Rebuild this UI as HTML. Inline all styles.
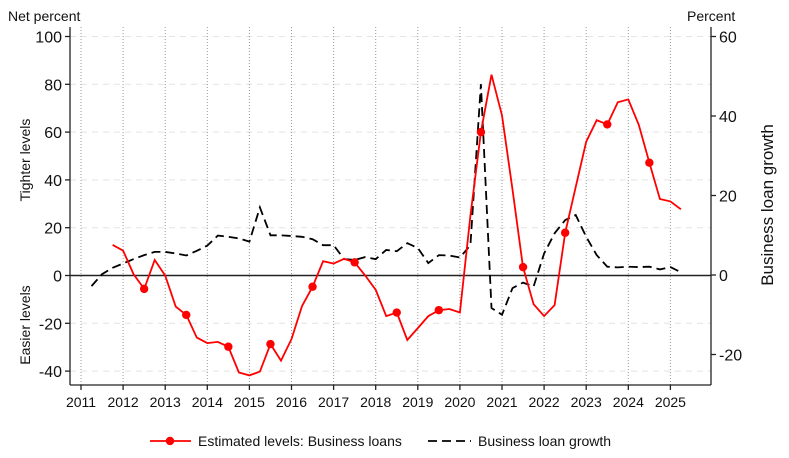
<!DOCTYPE html>
<html><head><meta charset="utf-8"><style>
body{margin:0;background:#fff;font-family:"Liberation Sans",sans-serif}
svg{display:block}
</style></head><body>
<svg id="c" width="789" height="458" font-family="Liberation Sans, sans-serif"></svg>
<script>
const years=[2011,2012,2013,2014,2015,2016,2017,2018,2019,2020,2021,2022,2023,2024,2025];
const leftTicks=[100,80,60,40,20,0,-20,-40];
const rightTicks=[60,40,20,0,-20];
const redStart=2011.75;
const redValues=[12.8,10.4,0.5,-5.6,6.5,0,-13,-16.5,-26,-28.3,-27.8,-29.8,-40.6,-41.8,-40.2,-28.7,-35.6,-26.6,-12.8,-4.7,6,5,7,5.5,0,-6,-17,-15.5,-27,-22,-17,-14.5,-14,-15.5,25,60,84,67,36,3.5,-12,-17,-12.4,17.9,37,56,65,63.2,72.5,73.7,63,47.2,32,31,27.7];
const blackStart=2011.25;
const blackValues=[-2.8,0.2,1.8,2.9,4,5,5.8,5.8,5.4,4.9,6.1,7.4,9.9,9.6,9.2,8.4,17,10,10,9.8,9.6,9,7.5,7.5,4,3.8,4.5,4,6.3,6,8,6.8,3,5,4.9,4.4,7.5,48,-8.3,-10,-3.3,-1.9,-2.9,5.4,10.5,13.8,15.1,9.6,5,2.1,1.9,2.1,2,2.1,1.4,2,0.7];
const NS='http://www.w3.org/2000/svg';
const svg=document.getElementById('c');
const X0=70,X1=711,YT=27,YB=385;
const xs=t=>81+(t-2011)*42.1;
const yl=v=>275.5-v*2.39;
const yr=v=>275-v*3.975;
function el(tag,attrs,parent){const e=document.createElementNS(NS,tag);for(const k in attrs)e.setAttribute(k,attrs[k]);(parent||svg).appendChild(e);return e;}
// grid
const grid=el('g',{});


leftTicks.forEach(v=>{if(v!==0)el('line',{x1:X0,x2:X1,y1:yl(v),y2:yl(v),stroke:'#e4e4e4','stroke-dasharray':'6,5','stroke-width':1},grid);});
years.forEach(y=>{el('line',{x1:xs(y),x2:xs(y),y1:YT,y2:YB,stroke:'#999','stroke-dasharray':'1,2','stroke-width':1},grid);});
// zero line
const z=el('line',{x1:X0,x2:X1,y1:yl(0),y2:yl(0),stroke:'#222','stroke-width':1.5});


// axes
const ax=el('g',{stroke:'#222','stroke-width':1.3});


el('line',{x1:X0,x2:X0,y1:YT,y2:YB},ax);
el('line',{x1:X1,x2:X1,y1:YT,y2:YB},ax);
el('line',{x1:X0,x2:X1,y1:YB,y2:YB},ax);
leftTicks.forEach(v=>{el('line',{x1:X0-5,x2:X0,y1:yl(v),y2:yl(v)},ax);
 const t=el('text',{x:X0-8,y:yl(v)+6,'text-anchor':'end','font-size':16,fill:'#111',stroke:'none'});t.textContent=v;
 
 });
rightTicks.forEach(v=>{el('line',{x1:X1,x2:X1+5,y1:yr(v),y2:yr(v)},ax);
 const t=el('text',{x:X1+8,y:yr(v)+6,'font-size':16,fill:'#111',stroke:'none'});t.textContent=v;
 
 });
years.forEach(y=>{el('line',{x1:xs(y),x2:xs(y),y1:YB,y2:YB+5},ax);
 const t=el('text',{x:xs(y),y:YB+22,'text-anchor':'middle','font-size':14,fill:'#111',stroke:'none'});t.textContent=y;
 
 });
// series
const bp=blackValues.map((v,i)=>xs(blackStart+i*0.25).toFixed(1)+','+yr(v).toFixed(1)).join(' ');
const bl=el('polyline',{points:bp,fill:'none',stroke:'#000','stroke-width':1.8,'stroke-dasharray':'9,5'});


const rp=redValues.map((v,i)=>xs(redStart+i*0.25).toFixed(1)+','+yl(v).toFixed(1)).join(' ');
const rl=el('polyline',{points:rp,fill:'none',stroke:'#ff0000','stroke-width':1.8});


redValues.forEach((v,i)=>{const t=redStart+i*0.25;if(Math.abs((t%1)-0.5)<0.01){
 const c=el('circle',{cx:xs(t),cy:yl(v),r:4.2,fill:'#ff0000'});
 
 }});
// titles
function txt(s,a,name){const t=el('text',a);t.textContent=s;return t;}
txt('Net percent',{x:8,y:21,'font-size':14,fill:'#111'},'left-axis-unit');
txt('Percent',{x:687,y:21,'font-size':14,fill:'#111'},'right-axis-unit');
txt('Tighter levels',{x:0,y:0,'font-size':14,fill:'#111','text-anchor':'middle',transform:'translate(30,160) rotate(-90)'},'tighter-levels-label');
txt('Easier levels',{x:0,y:0,'font-size':14,fill:'#111','text-anchor':'middle',transform:'translate(30,325) rotate(-90)'},'easier-levels-label');
txt('Business loan growth',{x:0,y:0,'font-size':17,fill:'#111','text-anchor':'middle',transform:'translate(773,205) rotate(-90)'},'right-axis-title');
// legend
const lg=el('g',{});


el('line',{x1:150,x2:191,y1:441,y2:441,stroke:'#ff0000','stroke-width':1.8},lg);
el('circle',{cx:170,cy:441,r:4.2,fill:'#ff0000'},lg);
txt('Estimated levels: Business loans',{x:198,y:446,'font-size':14,fill:'#111'},'legend-entry-estimated-levels');
el('line',{x1:428,x2:471,y1:441,y2:441,stroke:'#000','stroke-width':1.8,'stroke-dasharray':'9,5'},lg);
txt('Business loan growth',{x:478,y:446,'font-size':14,fill:'#111'},'legend-entry-loan-growth');
</script>
</body></html>
